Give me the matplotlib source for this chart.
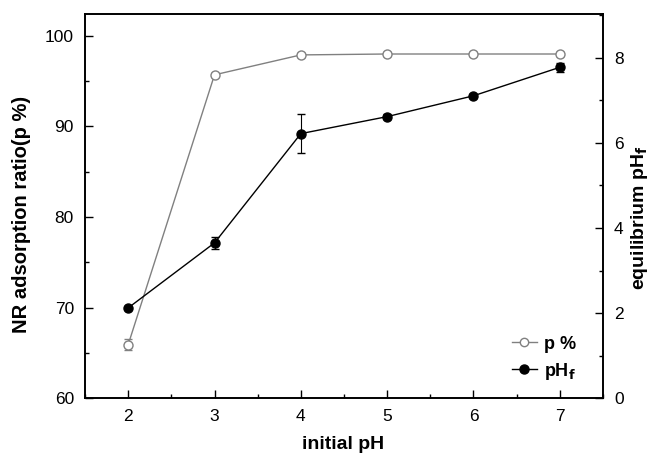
import matplotlib.pyplot as plt
import numpy as np
from matplotlib.ticker import MultipleLocator
from matplotlib.lines import Line2D

plt.rcParams['font.family'] = ['Liberation Sans', 'DejaVu Sans']

# --- dados ---
ph_inicial = [2, 3, 4, 5, 6, 7]
p_percent = [65.9, 95.7, 97.9, 98.0, 98.0, 98.0]
p_erro = [0.6, 0.2, 0.2, 0.2, 0.2, 0.2]
ph_final = [2.12, 3.65, 6.22, 6.62, 7.11, 7.78]
ph_erro = [0.03, 0.15, 0.45, 0.06, 0.05, 0.1]

fig, ax = plt.subplots(figsize=(6.54, 4.57), dpi=100)
ax2 = ax.twinx()

cinza = '#808080'
ax.errorbar(ph_inicial, p_percent, yerr=p_erro, color=cinza, lw=1, marker='o',
            ms=6.5, mfc='white', mec=cinza, mew=1, capsize=3, elinewidth=0.8,
            zorder=3)
ax2.errorbar(ph_inicial, ph_final, yerr=ph_erro, color='black', lw=1, marker='o',
             ms=6.5, mfc='black', mec='black', capsize=3, elinewidth=0.8,
             zorder=3)

ax.set_xlim(1.5, 7.5)
ax.set_ylim(60, 102.4)
ax2.set_ylim(0, 9.03)

ax.xaxis.set_major_locator(MultipleLocator(1))
ax.xaxis.set_minor_locator(MultipleLocator(0.5))
ax.yaxis.set_major_locator(MultipleLocator(10))
ax.yaxis.set_minor_locator(MultipleLocator(5))
ax2.yaxis.set_major_locator(MultipleLocator(2))
ax2.yaxis.set_minor_locator(MultipleLocator(1))

for a in (ax, ax2):
    a.tick_params(which='both', direction='in', labelsize=12.5, width=1)
    a.tick_params(which='major', length=6)
    a.tick_params(which='minor', length=3)
    for s in a.spines.values():
        s.set_linewidth(1.2)
ax.tick_params(top=False, which='both')
ax.tick_params(axis='y', pad=8)
ax2.tick_params(axis='y', pad=8)
ax.tick_params(axis='x', pad=8)

ax.set_xlabel('initial pH', fontsize=14, fontweight='bold', va='center')
ax.set_ylabel('NR adsorption ratio(p %)', fontsize=14.5, fontweight='bold', va='center')
ax2.set_ylabel('equilibrium pH$_\\mathbf{f}$', fontsize=14, fontweight='bold',
               va='center', rotation=90)
ax.xaxis.set_label_coords(0.498, -0.122)
ax.yaxis.set_label_coords(-0.122, 0.479)
ax2.yaxis.set_label_coords(1.071, 0.469)

handles = [
    Line2D([], [], color=cinza, lw=1, marker='o', ms=6, mfc='white', mec=cinza),
    Line2D([], [], color='black', lw=1, marker='o', ms=6.5, mfc='black', mec='black'),
]
ax.legend(handles, ['p %', 'pH$_\\mathbf{f}$'], loc='lower right',
          bbox_to_anchor=(0.98, 0.0), frameon=False,
          prop={'weight': 'bold', 'size': 13},
          handlelength=1.4, handletextpad=0.4, labelspacing=0.45)

fig.subplots_adjust(left=0.13, right=0.922, top=0.969, bottom=0.129)
fig.savefig('out.png', dpi=100)
